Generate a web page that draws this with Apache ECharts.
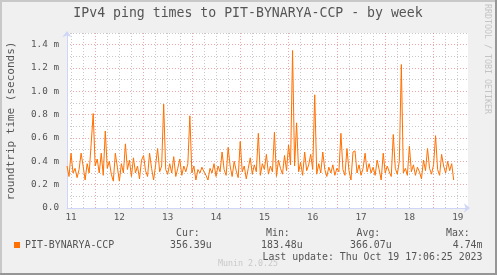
<!DOCTYPE html>
<html><head><meta charset="utf-8">
<script src="https://cdn.jsdelivr.net/npm/echarts@6/dist/echarts.min.js"></script>
<style>html,body{margin:0;padding:0;background:#F0F0F0}#c{width:497px;height:275px}</style>
</head><body><div id="c"></div>
<script>
// ---- data (values in milliseconds, hourly samples) ----
const seriesName = 'PIT-BYNARYA-CCP';
const startDay = 11 + 10 / 24;          // Oct 11 10:00
const stepDay = 1 / 24;                 // one sample per hour
const endDay = 19 + (17 * 60 + 6) / 1440; // Oct 19 17:06 (graph end)
const rttMs = [
  0.36,0.27,0.47,0.30,0.34,0.26,0.33,0.47,0.36,0.24,
  0.38,0.30,0.55,0.81,0.36,0.42,0.30,0.47,0.28,0.66,
  0.34,0.40,0.29,0.23,0.47,0.35,0.23,0.38,0.30,0.55,
  0.33,0.41,0.27,0.43,0.30,0.36,0.25,0.41,0.45,0.32,
  0.27,0.47,0.34,0.24,0.37,0.51,0.31,0.36,0.89,0.33,
  0.29,0.38,0.30,0.44,0.27,0.34,0.42,0.28,0.36,0.31,
  0.38,0.79,0.30,0.36,0.24,0.33,0.30,0.35,0.31,0.28,
  0.24,0.34,0.30,0.38,0.27,0.36,0.31,0.48,0.33,0.28,
  0.52,0.36,0.27,0.40,0.32,0.26,0.57,0.31,0.36,0.25,
  0.34,0.43,0.29,0.37,0.31,0.64,0.28,0.38,0.33,0.46,
  0.29,0.36,0.31,0.65,0.27,0.41,0.34,0.29,0.45,0.32,
  0.54,0.37,1.35,0.36,0.73,0.31,0.39,0.28,0.48,0.32,
  0.37,0.46,0.33,0.97,0.29,0.38,0.30,0.48,0.33,0.27,
  0.35,0.30,0.37,0.28,0.34,0.31,0.64,0.33,0.28,0.51,
  0.32,0.24,0.48,0.49,0.30,0.37,0.28,0.34,0.47,0.31,
  0.38,0.30,0.35,0.28,0.41,0.33,0.24,0.47,0.30,0.36,
  0.31,0.27,0.63,0.34,0.29,0.40,1.23,0.30,0.34,0.28,
  0.53,0.31,0.37,0.28,0.35,0.31,0.25,0.41,0.32,0.51,
  0.34,0.29,0.37,0.62,0.33,0.28,0.46,0.36,0.30,0.40,
  0.32,0.38,0.24
];
const xLabelDays = [11, 12, 13, 14, 15, 16, 17, 18, 19];
const yLabelValues = [0, 0.2, 0.4, 0.6, 0.8, 1.0, 1.2, 1.4];
const statHeaders = ['Cur:', 'Min:', 'Avg:', 'Max:'];
const statValues = ['356.39u', '183.48u', '366.07u', '4.74m'];
const lastUpdate = 'Last update: Thu Oct 19 17:06:25 2023';

// ---- build ----
const FONT = 'DejaVu Sans Mono';
const TXT = '#555';
const GRID = '#c8c8c8';
const MGRID = 'rgba(224,80,80,0.5)';
const AXIS = '#CFD6F8';
const lineColor = '#ff7000';

const points = rttMs.map((v, i) => [startDay + i * stepDay, v]);

// x grid every 6 hours, first at Oct 11 12:00
const xGrid = [];
for (let k = 0; ; k++) { const v = 11.5 + k * 0.25; if (v > endDay) break; xGrid.push(v); }
const xGridColors = [GRID, GRID, MGRID, GRID]; // 12:00, 18:00, 00:00(major), 06:00
const yGrid = [];
for (let k = 0; k <= 15; k++) yGrid.push(k / 10);
const yGridColors = [MGRID, GRID];

const chart = echarts.init(document.getElementById('c'), null, {renderer: 'canvas'});
chart.setOption({
  animation: false,
  backgroundColor: '#F0F0F0',
  grid: {left: 67, top: 33, width: 401, height: 175, show: true, backgroundColor: '#FFFFFF', borderWidth: 0},
  xAxis: [{
    type: 'value', min: startDay, max: endDay, position: 'bottom',
    axisLine: {show: false},
    axisTick: {show: false, customValues: xGrid},
    axisLabel: {customValues: xLabelDays.map(d => d + 0.5), formatter: v => String(Math.floor(v + 1e-6)),
      fontFamily: FONT, fontSize: 9.3, color: TXT, margin: 5},
    splitLine: {show: true, lineStyle: {color: xGridColors, type: [1, 2], width: 1}}
  }, {
    type: 'value', min: startDay, max: endDay, position: 'bottom', z: 1,
    axisLine: {show: true, onZero: false, lineStyle: {color: AXIS, width: 1},
      symbol: ['none', 'arrow'], symbolSize: [7, 6], symbolOffset: [0, 2]},
    axisTick: {show: false}, axisLabel: {show: false}, splitLine: {show: false}
  }],
  yAxis: [{
    type: 'value', min: 0, max: 1.5, position: 'left',
    axisLine: {show: false},
    axisTick: {show: false, customValues: yGrid},
    axisLabel: {customValues: yLabelValues, formatter: v => v === 0 ? '0.0' : v.toFixed(1) + ' m',
      fontFamily: FONT, fontSize: 9.3, color: TXT, margin: 8},
    splitLine: {show: true, lineStyle: {color: yGridColors, type: [1, 2], width: 1}}
  }, {
    type: 'value', min: 0, max: 1.5, position: 'left', z: 1,
    axisLine: {show: true, onZero: false, lineStyle: {color: AXIS, width: 1},
      symbol: ['none', 'arrow'], symbolSize: [7, 6], symbolOffset: [0, 2]},
    axisTick: {show: false}, axisLabel: {show: false}, splitLine: {show: false}
  }],
  legend: {
    data: [seriesName], icon: 'rect', itemWidth: 6, itemHeight: 6, left: 14, top: 240,
    selectedMode: false, padding: 0,
    textStyle: {fontFamily: FONT, fontSize: 9.9, color: TXT}
  },
  series: [{
    name: seriesName, type: 'line', data: points, xAxisIndex: 0, yAxisIndex: 0,
    showSymbol: false, symbol: 'none', color: lineColor,
    lineStyle: {color: lineColor, width: 1}, z: 3
  }],
  graphic: [
    {type: 'rect', shape: {x: 0, y: 0, width: 497, height: 2}, style: {fill: '#C8C8C8'}, silent: true},
    {type: 'rect', shape: {x: 0, y: 0, width: 2, height: 275}, style: {fill: '#C8C8C8'}, silent: true},
    {type: 'rect', shape: {x: 0, y: 273, width: 497, height: 2}, style: {fill: '#969696'}, silent: true},
    {type: 'rect', shape: {x: 495, y: 0, width: 2, height: 275}, style: {fill: '#969696'}, silent: true},
    {type: 'text', x: 248, y: 14, style: {text: 'IPv4 ping times to PIT-BYNARYA-CCP - by week',
      font: '13.2px "DejaVu Sans Mono"', fill: TXT, align: 'center', verticalAlign: 'middle'}},
    {type: 'text', x: 11, y: 121, rotation: Math.PI / 2, style: {text: 'roundtrip time (seconds)',
      font: '11px "DejaVu Sans Mono"', fill: TXT, align: 'center', verticalAlign: 'middle'}},
    {type: 'text', x: 487.5, y: 59, rotation: -Math.PI / 2, style: {text: 'RRDTOOL / TOBI OETIKER',
      font: '8.3px "DejaVu Sans Mono"', fill: '#c4c4c4', align: 'center', verticalAlign: 'middle'}},
    {type: 'text', x: 248, y: 264, style: {text: 'Munin 2.0.25',
      font: '8.3px "DejaVu Sans Mono"', fill: '#c8c8c8', align: 'center', verticalAlign: 'middle'}},
    {type: 'text', x: 176, y: 233.5, style: {text: statHeaders[0], font: '9.9px "DejaVu Sans Mono"', fill: TXT, verticalAlign: 'middle'}},
    {type: 'text', x: 170, y: 245.3, style: {text: statValues[0], font: '9.9px "DejaVu Sans Mono"', fill: TXT, verticalAlign: 'middle'}},
    {type: 'text', x: 266, y: 233.5, style: {text: statHeaders[1], font: '9.9px "DejaVu Sans Mono"', fill: TXT, verticalAlign: 'middle'}},
    {type: 'text', x: 261, y: 245.3, style: {text: statValues[1], font: '9.9px "DejaVu Sans Mono"', fill: TXT, verticalAlign: 'middle'}},
    {type: 'text', x: 356.5, y: 233.5, style: {text: statHeaders[2], font: '9.9px "DejaVu Sans Mono"', fill: TXT, verticalAlign: 'middle'}},
    {type: 'text', x: 350, y: 245.3, style: {text: statValues[2], font: '9.9px "DejaVu Sans Mono"', fill: TXT, verticalAlign: 'middle'}},
    {type: 'text', x: 446, y: 233.5, style: {text: statHeaders[3], font: '9.9px "DejaVu Sans Mono"', fill: TXT, verticalAlign: 'middle'}},
    {type: 'text', x: 482.5, y: 245.3, style: {text: statValues[3], font: '9.9px "DejaVu Sans Mono"', fill: TXT, align: 'right', verticalAlign: 'middle'}},
    {type: 'text', x: 482.5, y: 257, style: {text: lastUpdate, font: '9.9px "DejaVu Sans Mono"', fill: TXT, align: 'right', verticalAlign: 'middle'}}
  ]
});
</script></body></html>
